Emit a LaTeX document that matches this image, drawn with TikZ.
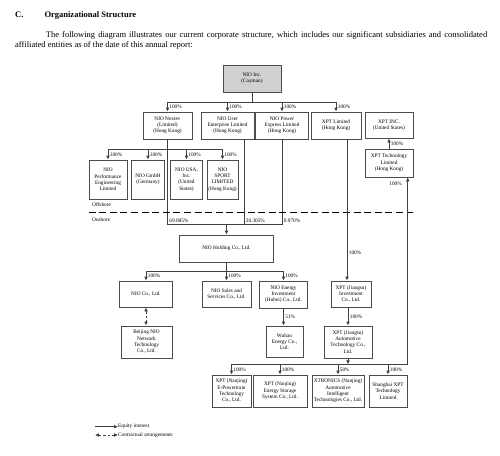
\documentclass[tikz,border=0pt]{standalone}
\usepackage{fontspec}
\setmainfont{Liberation Serif}
\usetikzlibrary{arrows.meta}

\begin{document}
\begin{tikzpicture}[
  x=1pt, y=-1pt,
  box/.style={draw=black!70, line width=0.8pt, align=center, inner sep=0.5pt, font=\fontsize{5.3}{6.3}\selectfont},
  dims/.style 2 args={minimum width=#1pt, minimum height=#2pt},
  pct/.style={font=\fontsize{5.3}{6.3}\selectfont, inner sep=1.5pt},
  note/.style={font=\fontsize{5.3}{6.3}\selectfont, inner sep=0pt},
  conn/.style={draw=black!75, line width=0.8pt},
  arr/.style={conn, -{Latex[length=4pt,width=3.8pt]}},
  contr/.style={conn, dash pattern=on 2.5pt off 2pt, {Latex[length=4pt,width=3.8pt]}-{Latex[length=4pt,width=3.8pt]}},
  border/.style={line width=1.6pt, dash pattern=on 7pt off 3.6pt}
]
\useasboundingbox (0,0) rectangle (500,455);

% heading and intro text
\node[font=\fontsize{8.5}{10}\selectfont\bfseries, anchor=base west, inner sep=0pt] (sec) at (15,17) {C.};
\node[font=\fontsize{8.5}{10}\selectfont\bfseries, anchor=base west, inner sep=0pt] (title) at (44.3,17) {Organizational Structure};
\node[text width=472pt, align=justify, anchor=north west, inner sep=0pt, font=\fontsize{8.5}{10}\selectfont] (intro) at (15,31)
  {\hspace*{30.7pt}The following diagram illustrates our current corporate structure, which includes our significant subsidiaries and consolidated affiliated entities as of the date of this annual report:};

% offshore entities
\node[box, dims={58}{27}, fill=black!18] (inc) at (252,78.5) {NIO Inc.\\(Cayman)};
\node[box, dims={49}{27}] (nextev) at (167.5,125.5) {NIO Nextev\\(Limited)\\(Hong Kong)};
\node[box, dims={53}{27}] (userent) at (227.5,125.5) {NIO User\\Enterprise Limited\\(Hong Kong)};
\node[box, dims={53}{27}] (power) at (282,125.5) {NIO Power\\Express Limited\\(Hong Kong)};
\node[box, dims={50}{27}] (xptltd) at (336,125.5) {XPT Limited\\(Hong Kong)};
\node[box, dims={48}{26}] (xptinc) at (389,125) {XPT INC.\\(United States)};
\node[box, dims={48}{28}] (xpttech) at (389,163) {XPT Technology\\Limited\\(Hong Kong)};

\node[box, dims={38}{39}] (perf) at (108,179.5) {NIO\\Performance\\Engineering\\Limited};
\node[box, dims={33}{39}] (gmbh) at (148,179.5) {NIO GmbH\\(Germany)};
\node[box, dims={32}{39}] (usa) at (186.5,179.5) {NIO USA,\\Inc.\\(United\\States)};
\node[box, dims={31}{39}] (sport) at (222.5,179.5) {NIO\\SPORT\\LIMITED\\(Hong Kong)};

% onshore entities
\node[box, dims={94}{27}] (holding) at (226.5,248.5) {NIO Holding Co., Ltd.};
\node[box, dims={53}{26}] (nioco) at (146,294) {NIO Co., Ltd.};
\node[box, dims={49}{26}] (sales) at (226.5,294) {NIO Sales and\\Services Co., Ltd.};
\node[box, dims={48}{27}] (energy) at (283.5,294.5) {NIO Energy\\Investment\\(Hubei) Co., Ltd.};
\node[box, dims={40}{26}] (invest) at (351,294) {XPT (Jiangsu)\\Investment\\Co., Ltd.};

\node[box, dims={51}{32}] (beijing) at (146.5,342) {Beijing NIO\\Network\\Technology\\Co., Ltd.};
\node[box, dims={37}{31}] (wuhan) at (284.5,341.5) {Wuhan\\Energy Co.,\\Ltd.};
\node[box, dims={48}{32}] (auto) at (348,342) {XPT (Jiangsu)\\Automotive\\Technology Co.,\\Ltd.};

\node[box, dims={39}{32}] (epower) at (231.5,391) {XPT (Nanjing)\\E-Powertrain\\Technology\\Co., Ltd.};
\node[box, dims={54}{32}] (storage) at (280,391) {XPT (Nanjing)\\Energy Storage\\System Co., Ltd.};
\node[box, dims={52}{32}] (xtronics) at (338,391) {XTRONICS (Nanjing)\\Automotive\\Intelligent\\Technologies Co., Ltd.};
\node[box, dims={38}{32}] (shanghai) at (388,391) {Shanghai XPT\\Technology\\Limited};

% NIO Inc. to first level
\coordinate (bus1) at (252,102);
\draw[conn] (inc.south) -- (bus1);
\draw[conn] (nextev.north |- bus1) -- (xptltd.north |- bus1);
\draw[arr] (nextev.north |- bus1) -- node[pct, right] {100\%} (nextev.north);
\draw[arr] (userent.north |- bus1) -- node[pct, right] {100\%} (userent.north);
\draw[arr] (power.north |- bus1) -- node[pct, right] {100\%} (power.north);
\draw[arr] (xptltd.north |- bus1) -- node[pct, right] {100\%} (xptltd.north);
\draw[arr] (xpttech.north) -- node[pct, right] {100\%} (xptinc.south);

% NIO Nextev subsidiaries
\coordinate (bus2) at (167.5,149.3);
\draw[conn] (perf.north |- bus2) -- (sport.north |- bus2);
\draw[arr] (perf.north |- bus2) -- node[pct, right] {100\%} (perf.north);
\draw[arr] (gmbh.north |- bus2) -- node[pct, right] {100\%} (gmbh.north);
\draw[arr] (usa.north |- bus2) -- node[pct, right] {100\%} (usa.north);
\draw[arr] (sport.north |- bus2) -- node[pct, right] {100\%} (sport.north);

% shares of NIO Holding
\coordinate (merge) at (226.5,224.5);
\draw[conn] (nextev.south) -- (nextev.south |- merge) node[pct, anchor=south west] {69.085\%};
\draw[conn] ([xshift=16.5pt]userent.south) -- ([xshift=16.5pt]userent.south |- merge) node[pct, anchor=south west] {20.305\%};
\draw[conn] (power.south) -- (power.south |- merge) node[pct, anchor=south west] {0.970\%};
\draw[conn] (nextev.south |- merge) -- (power.south |- merge);
\draw[arr] (merge) -- (holding.north);

% offshore / onshore
\coordinate (shore) at (250,212.3);
\draw[border] (perf.west |- shore) -- (xpttech.east |- shore);
\node[note, anchor=west] (off) at (92,205) {Offshore};
\node[note, anchor=west] (on) at (92,220) {Onshore};

% NIO Holding subsidiaries
\coordinate (bus3) at (226.5,271);
\draw[conn] (holding.south) -- (bus3);
\draw[conn] (nioco.north |- bus3) -- (energy.north |- bus3);
\draw[arr] (nioco.north |- bus3) -- node[pct, right] {100\%} (nioco.north);
\draw[arr] (sales.north |- bus3) -- node[pct, right] {100\%} (sales.north);
\draw[arr] (energy.north |- bus3) -- node[pct, right] {100\%} (energy.north);
\draw[contr] (nioco.south) -- (nioco.south |- beijing.north);
\draw[arr] (energy.south) -- node[pct, right] {51\%} (energy.south |- wuhan.north);

% XPT chain
\draw[arr] ([xshift=11pt]xptltd.south) -- node[pct, right, pos=0.8] {100\%} ([xshift=11pt]xptltd.south |- invest.north);
\draw[arr] (auto.north |- invest.south) -- node[pct, right] {100\%} (auto.north);

\coordinate (bus4) at (348,364.3);
\draw[arr] (auto.south) -- (bus4);
\draw[arr] (epower.north |- bus4) -- ([xshift=18.7pt]xpttech.south |- bus4) -- ([xshift=18.7pt]xpttech.south)
  node[pct, anchor=north east, xshift=-4pt, yshift=-3pt] {100\%};
\draw[arr] (epower.north |- bus4) -- node[pct, right] {100\%} (epower.north);
\draw[arr] (storage.north |- bus4) -- node[pct, right] {100\%} (storage.north);
\draw[arr] (xtronics.north |- bus4) -- node[pct, right] {50\%} (xtronics.north);
\draw[arr] (shanghai.north |- bus4) -- node[pct, right] {100\%} (shanghai.north);

% legend
\node[note, anchor=west] (legeq) at (118,426.7) {Equity interest};
\node[note, anchor=west] (legct) at (118,435) {Contractual arrangements};
\coordinate (legeqs) at (95,426.7);
\coordinate (legcts) at (95,435);
\draw[arr] (legeqs) -- (legeq.west);
\draw[contr] (legcts) -- (legct.west);

\end{tikzpicture}
\end{document}
